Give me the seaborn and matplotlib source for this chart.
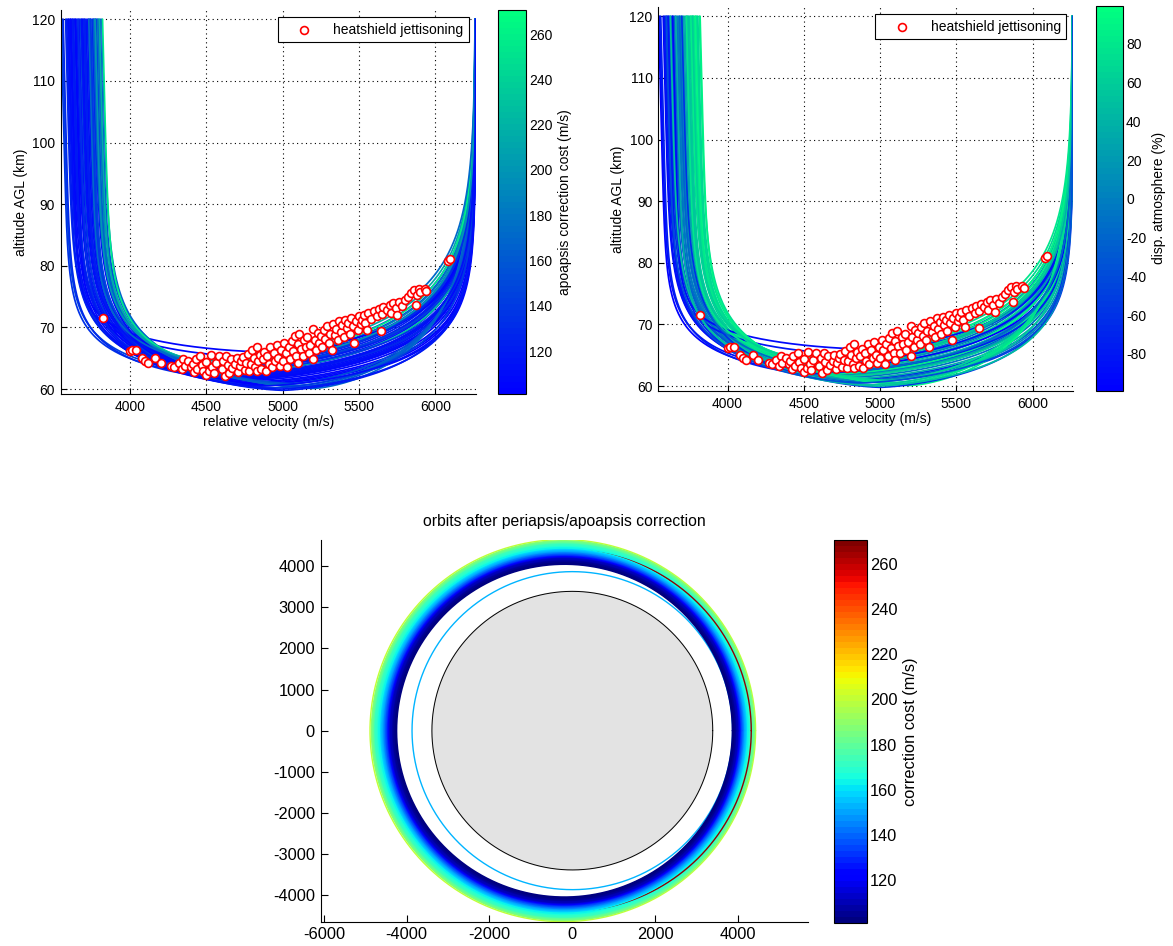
import numpy as np
import matplotlib
matplotlib.use("Agg")
import matplotlib.pyplot as plt
import seaborn as sns
from matplotlib.colors import Normalize
from matplotlib.cm import ScalarMappable

# ---------------- data ----------------
V_ENTRY = 6262.0          # entry velocity at 120 km (m/s)
H_TOP = 120.0             # trajectory end altitude (km)

# trajectories: exit velocity at 120 km, velocity & altitude at lowest point,
# descent/ascent scale heights, apoapsis correction cost, atmosphere dispersion
traj_v_top = [3578, 3585, 3592, 3600, 3608, 3615, 3622, 3630, 3638, 3645,
              3652, 3660, 3668, 3675, 3682, 3690, 3697, 3705, 3712, 3720,
              3728, 3735, 3742, 3750, 3757, 3765, 3772, 3780, 3788, 3795,
              3548, 3555, 3562, 3640, 3610, 3760, 3775, 3790, 3805, 3815,
              3740, 3800, 3820, 3700, 3660, 3625, 3685, 3730, 3770, 3598]
traj_v_min = [4700, 4650, 4800, 4580, 4720, 4900, 4620, 4760, 4540, 4850,
              4680, 4600, 4790, 4520, 4710, 4880, 4630, 4560, 4740, 4660,
              4820, 4590, 4700, 4500, 4770, 4640, 4610, 4730, 4560, 4680,
              4500, 4450, 4550, 4900, 4800, 5150, 5100, 5200, 5050, 5120,
              4950, 4480, 4520, 5000, 4450, 4980, 4760, 4430, 4600, 4870]
traj_h_min = [61.8, 62.3, 61.0, 62.9, 61.5, 60.6, 63.1, 61.9, 63.6, 60.9,
              62.6, 63.3, 61.4, 64.0, 62.1, 60.8, 63.0, 63.8, 61.7, 62.8,
              61.2, 63.5, 62.4, 64.3, 61.6, 63.2, 63.7, 62.0, 64.1, 62.7,
              62.5, 63.0, 62.0, 66.0, 65.2, 60.3, 60.6, 60.1, 60.9, 60.4,
              60.2, 64.6, 64.2, 59.8, 63.4, 60.0, 62.4, 64.8, 63.9, 60.5]
traj_H1 = [6.4, 6.8, 6.0, 7.2, 6.6, 5.8, 7.6, 6.9, 8.0, 6.2,
           7.3, 7.8, 6.5, 8.3, 7.0, 6.1, 7.5, 8.1, 6.7, 7.4,
           6.3, 7.9, 7.1, 8.4, 6.6, 7.7, 8.0, 6.9, 8.2, 7.3,
           6.5, 6.8, 6.2, 7.0, 7.0, 10.0, 9.5, 10.5, 9.0, 9.8,
           7.5, 8.6, 8.5, 6.8, 7.6, 6.4, 7.2, 8.8, 8.1, 6.0]
traj_H2 = [5.6, 5.4, 5.8, 5.2, 6.0, 6.2, 5.5, 5.9, 5.3, 6.1,
           5.7, 5.6, 6.0, 5.4, 5.9, 6.3, 5.8, 5.6, 6.1, 5.9,
           6.2, 5.7, 6.0, 5.5, 6.3, 5.9, 5.8, 6.2, 5.7, 6.1,
           4.6, 4.8, 5.0, 3.0, 3.5, 6.4, 6.2, 6.6, 6.0, 6.3,
           6.0, 5.6, 5.8, 6.4, 5.2, 6.2, 5.8, 5.4, 5.6, 6.0]
traj_cost = [128, 121, 115, 133, 110, 106, 119, 112, 138, 104,
             116, 124, 108, 142, 113, 103, 121, 131, 109, 117,
             105, 127, 114, 150, 107, 123, 145, 111, 190, 230,
             135, 145, 128, 105, 108, 160, 168, 175, 155, 165,
             140, 215, 255, 120, 132, 118, 112, 170, 200, 109]
traj_atm = [-92, -85, -78, -70, -64, -58, -50, -44, -36, -30,
            -24, -17, -10, -4, 3, 9, 15, 22, 28, 34,
            40, 46, 52, 58, 64, 70, 76, 82, 88, 94,
            -96, -88, -75, -90, -82, 85, 78, 92, 66, 72,
            55, 68, 90, -60, 35, 48, -20, 80, 62, -40]

# heatshield jettisoning points
jet_v = [3820, 4000, 4015, 4040, 4080, 4100, 4120, 4165, 4200,
         4270, 4290, 4320, 4340, 4350, 4360, 4380, 4400, 4410, 4420,
         4430, 4440, 4460, 4470, 4480, 4500, 4500, 4520, 4530, 4540,
         4550, 4560, 4580, 4600, 4610, 4620, 4630, 4640, 4650, 4660,
         4670, 4690, 4700, 4710, 4720, 4730, 4740, 4750, 4760, 4770,
         4780, 4790, 4800, 4810, 4820, 4830, 4830, 4840, 4850, 4860,
         4870, 4880, 4890, 4900, 4910, 4920, 4930, 4940, 4950, 4960,
         4970, 4980, 4990, 5000, 5010, 5020, 5030, 5040, 5050, 5060,
         5070, 5080, 5090, 5100, 5100, 5110, 5120, 5130, 5140, 5150,
         5160, 5170, 5180, 5200, 5200, 5210, 5220, 5230, 5240, 5250,
         5260, 5270, 5280, 5290, 5300, 5310, 5320, 5330, 5340, 5350,
         5360, 5370, 5380, 5390, 5400, 5410, 5420, 5430, 5440, 5450,
         5460, 5470, 5480, 5490, 5500, 5510, 5520, 5530, 5540, 5555,
         5560, 5580, 5600, 5620, 5630, 5645, 5650, 5660, 5680, 5700,
         5710, 5720, 5740, 5750, 5760, 5780, 5800, 5820, 5840, 5860,
         5870, 5880, 5890, 5900, 5930, 5940, 6080, 6095]
jet_h = [71.5, 66.2, 66.4, 66.3, 65.0, 64.5, 64.2, 65.0, 64.3,
         63.8, 63.5, 64.2, 63.2, 64.8, 63.8, 64.5, 63.5, 64.0, 62.8,
         64.9, 63.3, 65.3, 63.9, 62.9, 62.3, 64.4, 63.0, 65.6, 63.6,
         62.6, 64.2, 65.3, 63.3, 64.6, 62.2, 65.4, 63.9, 62.6, 64.9,
         63.4, 64.1, 65.0, 62.8, 63.8, 64.6, 65.2, 63.1, 64.3, 65.7,
         62.9, 64.0, 66.4, 65.0, 63.5, 66.8, 63.0, 64.6, 65.6, 63.2,
         64.9, 66.0, 62.9, 65.3, 64.0, 66.8, 63.6, 65.9, 64.5, 67.2,
         65.1, 63.7, 66.3, 64.6, 67.4, 65.8, 63.5, 66.9, 64.9, 67.8,
         66.1, 68.6, 65.3, 67.3, 64.3, 68.9, 66.5, 65.4, 67.9, 66.8,
         68.4, 65.9, 67.2, 64.9, 69.8, 68.0, 66.4, 69.1, 67.5, 68.6,
         66.9, 69.6, 68.1, 70.3, 67.4, 69.0, 66.3, 70.5, 68.7, 69.8,
         67.9, 71.0, 69.3, 70.4, 68.5, 71.2, 69.9, 70.8, 69.0, 71.5,
         70.2, 67.4, 71.0, 69.6, 71.8, 70.5, 71.2, 72.0, 70.7, 69.6,
         72.3, 71.4, 72.6, 71.8, 73.0, 69.4, 72.2, 73.3, 72.8, 73.6,
         72.3, 74.0, 73.1, 72.0, 74.2, 73.4, 74.5, 75.0, 75.6, 76.0,
         73.6, 75.2, 76.3, 75.8, 76.2, 75.9, 80.7, 81.1]

# orbits after correction: periapsis / apoapsis radius (km) and cost (m/s)
orbit_peri = [3872, 3888, 3905, 3921, 3940, 3957, 3975, 3992, 4010, 4028,
              4046, 4064, 4082, 4101, 4119, 4137, 4156, 4174, 4192, 4211,
              4229, 4247, 4266, 4284, 4302, 4321, 4340, 4358, 4377, 4395, 4425]
orbit_apo = [4250, 4270, 4290, 4310, 4331, 4351, 4372, 4392, 4413, 4433,
             4454, 4474, 4495, 4515, 4536, 4556, 4577, 4597, 4618, 4638,
             4659, 4679, 4700, 4720, 4741, 4761, 4782, 4802, 4823, 4843, 4885]
orbit_cost = [102, 103, 104, 106, 107, 109, 111, 114, 119, 124,
              129, 134, 138, 142, 146, 150, 153, 156, 159, 162,
              164, 166, 168, 170, 172, 175, 178, 181, 185, 190, 200]
max_cost_orbit = (4320, 4470, 268)   # peri, apo, cost
MARS_RADIUS = 3390
TARGET_RADIUS = 3870
TARGET_COST = 154

COST_RANGE = (101.0, 270.7)
ATM_RANGE = (-99.0, 99.5)

# ---------------- style ----------------
sns.set_theme(style="white")
plt.rcParams["font.family"] = ["Liberation Sans", "DejaVu Sans"]
plt.rcParams.update({
    "axes.edgecolor": "black", "axes.linewidth": 0.8,
    "xtick.color": "black", "ytick.color": "black",
    "text.color": "black", "axes.labelcolor": "black",
    "axes.unicode_minus": False,
})

W, H = 1173, 946
fig = plt.figure(figsize=(W / 100, H / 100), dpi=100)


def frac(l, t, r, b):
    return [l / W, 1 - b / H, (r - l) / W, (b - t) / H]


ax1 = fig.add_axes(frac(60.7, 10, 476, 394))
cax1 = fig.add_axes(frac(498.3, 10, 526, 394))
ax2 = fig.add_axes(frac(658.3, 7, 1073.3, 391))
cax2 = fig.add_axes(frac(1095.7, 6, 1123.3, 390.7))
ax3 = fig.add_axes(frac(320.5, 540, 808, 921.7))
cax3 = fig.add_axes(frac(834, 540, 867.3, 922.7))

winter = plt.get_cmap("winter", 64)
jet = plt.get_cmap("jet", 64)


def trajectory(v_top, v_min, h_min, H1, H2, p=1.5, gL=1.0):
    s = np.linspace(0, 1, 500)
    h = h_min + (H_TOP - h_min) * s ** 2
    uR = (1 - np.exp(-(h - h_min) / H1)) ** (1 / p)
    vR = v_min + (V_ENTRY - v_min) * uR
    uL = (1 - np.exp(-(h - h_min) / H2)) ** (1 / p)
    v_x = v_top + gL * (H_TOP - h_min)
    vL = v_min - (v_min - v_x) * uL - gL * (h - h_min)
    return np.concatenate([vR[::-1], vL[1:]]), np.concatenate([h[::-1], h[1:]])


def style_top(ax):
    ax.set_xlim(3546, 6266)
    ax.set_ylim(59.2, 121.5)
    ax.set_xticks([4000, 4500, 5000, 5500, 6000])
    ax.set_yticks([60, 70, 80, 90, 100, 110, 120])
    ax.grid(True, color="black", linestyle=(0, (1, 3)), linewidth=0.8)
    ax.set_axisbelow(True)
    for sp in ("top", "right"):
        ax.spines[sp].set_visible(False)
    ax.tick_params(direction="in", length=4, width=0.8, labelsize=10,
                   left=True, bottom=True, pad=4)
    ax.set_xlabel("relative velocity (m/s)", fontsize=10, labelpad=1)
    ax.set_ylabel("altitude AGL (km)", fontsize=10, labelpad=3)


def colorbar(cax, cmap, norm, ticks, label, size):
    cb = fig.colorbar(ScalarMappable(norm=norm, cmap=cmap), cax=cax)
    cb.set_ticks(ticks)
    cb.outline.set_edgecolor("black")
    cb.outline.set_linewidth(0.8)
    cax.tick_params(direction="in", left=True, right=True, length=4,
                    width=0.8, labelsize=size, pad=2)
    cb.set_label(label, fontsize=size, labelpad=4)
    return cb


for ax, values, rng in ((ax1, traj_cost, COST_RANGE), (ax2, traj_atm, ATM_RANGE)):
    norm = Normalize(*rng)
    for i in range(len(traj_v_top)):
        v, h = trajectory(traj_v_top[i], traj_v_min[i], traj_h_min[i],
                          traj_H1[i], traj_H2[i])
        sns.lineplot(x=v, y=h, ax=ax, color=winter(norm(values[i])), lw=1.25,
                     sort=False, estimator=None, legend=False)
    sns.scatterplot(x=jet_v, y=jet_h, ax=ax, marker="o", s=32,
                    facecolor="white", edgecolor="red", linewidth=1.2,
                    label="heatshield jettisoning", zorder=5)
    style_top(ax)
    leg = ax.legend(loc="upper right", frameon=True, fancybox=False,
                    edgecolor="black", framealpha=1, borderaxespad=0.5,
                    handlelength=3.0, handletextpad=0.6, fontsize=10,
                    borderpad=0.4)
    leg.get_frame().set_linewidth(0.8)

colorbar(cax1, winter, Normalize(*COST_RANGE), np.arange(120, 261, 20),
         "apoapsis correction cost (m/s)", 10)
colorbar(cax2, winter, Normalize(*ATM_RANGE), np.arange(-80, 81, 20),
         "disp. atmosphere (%)", 10)

# ---------------- bottom: orbits ----------------
norm3 = Normalize(*COST_RANGE)
th = np.linspace(0, 2 * np.pi, 1440)


def orbit_xy(peri, apo):
    a = (peri + apo) / 2
    e = (apo - peri) / (apo + peri)
    r = a * (1 - e ** 2) / (1 + e * np.cos(th))
    return r * np.cos(th), r * np.sin(th)


# planet
px, py = MARS_RADIUS * np.cos(th), MARS_RADIUS * np.sin(th)
ax3.fill(px, py, color=(0.89, 0.89, 0.89), zorder=1)
sns.lineplot(x=px, y=py, ax=ax3, color="black", lw=0.7, sort=False,
             estimator=None, legend=False)
tx, ty = TARGET_RADIUS * np.cos(th), TARGET_RADIUS * np.sin(th)
sns.lineplot(x=tx, y=ty, ax=ax3, color=jet(norm3(TARGET_COST)), lw=1.0,
             sort=False, estimator=None, legend=False)

order = list(range(len(orbit_peri)))[::-1]
for idx in order:
    if idx == 19:
        rx, ry = orbit_xy(max_cost_orbit[0], max_cost_orbit[1])
        sns.lineplot(x=rx, y=ry, ax=ax3, color=jet(norm3(max_cost_orbit[2])),
                     lw=1.0, sort=False, estimator=None, legend=False)
    x, y = orbit_xy(orbit_peri[idx], orbit_apo[idx])
    lw = 1.0 if idx == len(orbit_peri) - 1 else 1.5
    sns.lineplot(x=x, y=y, ax=ax3, color=jet(norm3(orbit_cost[idx])), lw=lw,
                 sort=False, estimator=None, legend=False)

ax3.set_xlim(-6080, 5690)
ax3.set_ylim(-4650, 4640)
ax3.set_xticks([-6000, -4000, -2000, 0, 2000, 4000])
ax3.set_yticks(np.arange(-4000, 4001, 1000))
for sp in ("top", "right"):
    ax3.spines[sp].set_visible(False)
ax3.tick_params(direction="in", length=5, width=0.8, labelsize=11.8,
                left=True, bottom=True, pad=4)
ax3.set_xlabel("")
ax3.set_ylabel("")
ax3.set_title("orbits after periapsis/apoapsis correction", fontsize=11.3, pad=10)

colorbar(cax3, jet, norm3, np.arange(120, 261, 20), "correction cost (m/s)", 11.8)

fig.savefig("out.png", dpi=100)
